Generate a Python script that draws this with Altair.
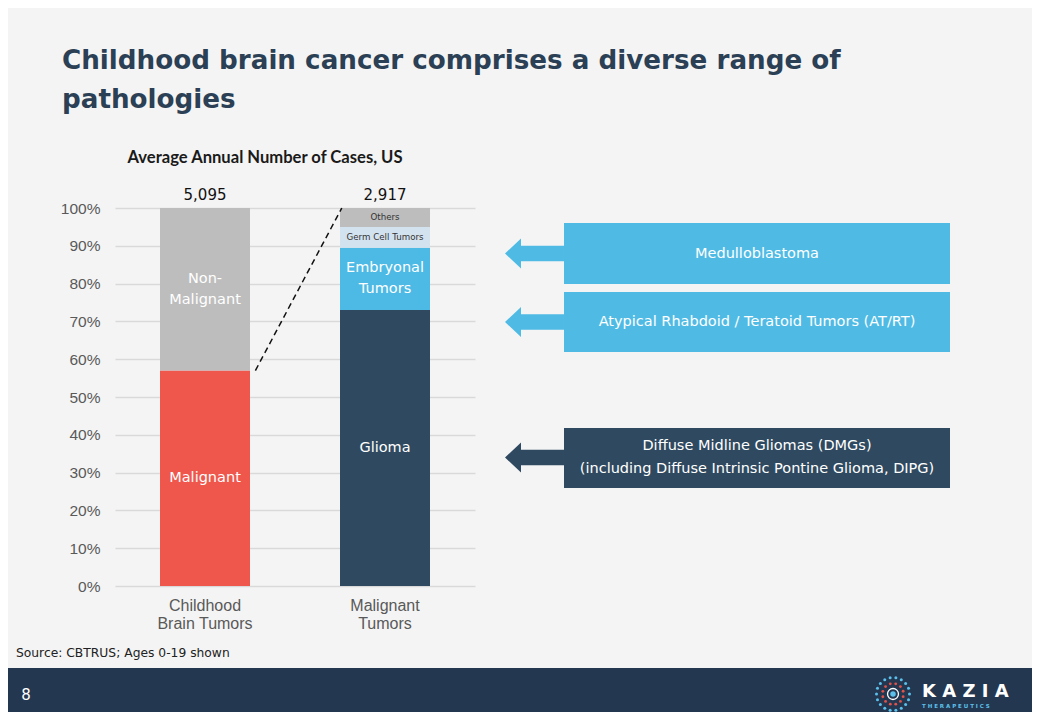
import math
import altair as alt
import pandas as pd

# ---------------- data ----------------
categories = ["Childhood Brain Tumors", "Malignant Tumors"]
category_labels = ["Childhood\nBrain Tumors", "Malignant\nTumors"]
totals = [5095, 2917]

seg_category = ["Childhood Brain Tumors", "Childhood Brain Tumors",
                "Malignant Tumors", "Malignant Tumors", "Malignant Tumors", "Malignant Tumors"]
seg_names = ["Malignant", "Non-Malignant", "Glioma", "Embryonal Tumors", "Germ Cell Tumors", "Others"]
seg_labels = ["Malignant", "Non-\nMalignant", "Glioma", "Embryonal\nTumors", "Germ Cell Tumors", "Others"]
seg_values = [57, 43, 73, 16.5, 5.5, 5]

seg_colors = ["#EF564C", "#BDBDBD", "#2F4A60", "#4DB9E5", "#D3E2EF", "#BDBDBD"]
seg_text_colors = ["white", "white", "white", "white", "#333333", "#333333"]
seg_text_sizes = [14.5, 14.5, 14.5, 14.5, 8.7, 8.7]

# ---------------- tables ----------------
rows = []
cum = {c: 0.0 for c in categories}
for c, n, lab, v, tc, ts in zip(seg_category, seg_names, seg_labels, seg_values,
                                seg_text_colors, seg_text_sizes):
    i = categories.index(c)
    y0 = cum[c]
    y1 = y0 + v
    cum[c] = y1
    rows.append(dict(category=c, segment=n, label=lab, y0=y0, y1=y1, ymid=(y0 + y1) / 2,
                     x0=i + 0.25, x1=i + 0.75, xc=i + 0.5, tcolor=tc, tsize=ts,
                     multi="\n" in lab))
seg_df = pd.DataFrame(rows)

tot_df = pd.DataFrame(dict(category=categories,
                           xc=[i + 0.5 for i in range(len(categories))],
                           top=[cum[c] for c in categories],
                           total=totals,
                           label=category_labels))

# connector: from top of "Malignant" (bar 1 right side) to top of bar 2 (left side)
conn_df = pd.DataFrame(dict(x=[0.78], y=[seg_values[0]], x2=[1.26], y2=[100]))

xscale = alt.Scale(domain=[0, 2], nice=False, zero=False)
yscale = alt.Scale(domain=[0, 100], nice=False)
yaxis = alt.Axis(values=list(range(0, 101, 10)), tickCount=11, labelOverlap=False,
                 labelExpr="datum.value + '%'",
                 grid=True, gridColor="#D9D9D9", gridWidth=1.5, domain=False,
                 ticks=False, labelFont="Liberation Sans", labelFontSize=15.5,
                 labelColor="#595959", labelPadding=15, title=None)

BG = "#F4F4F4"
NAVY = "#2F4A60"
SKY = "#4FBBE5"

bars = alt.Chart(seg_df).mark_rect().encode(
    x=alt.X("x0:Q", scale=xscale, axis=None),
    x2="x1:Q",
    y=alt.Y("y0:Q", scale=yscale, axis=yaxis),
    y2="y1:Q",
    color=alt.Color("segment:N", scale=alt.Scale(domain=seg_names, range=seg_colors), legend=None),
)


def seg_text_layer(multi, dy):
    return alt.Chart(seg_df).transform_filter(
        f"datum.multi == {'true' if multi else 'false'}"
    ).mark_text(font="DejaVu Sans", lineBreak="\n", lineHeight=21, dy=dy,
                baseline="middle", align="center").encode(
        x=alt.X("xc:Q", scale=xscale, axis=None),
        y=alt.Y("ymid:Q", scale=yscale, axis=yaxis),
        text="label:N",
        color=alt.Color("tcolor:N", scale=None),
        size=alt.Size("tsize:Q", scale=None),
    )


seg_text1 = seg_text_layer(False, 0)
seg_text2 = seg_text_layer(True, -10.5)

tot_text = alt.Chart(tot_df).mark_text(font="DejaVu Sans", fontSize=15, dy=-5, color="#111111",
                                       baseline="bottom").encode(
    x=alt.X("xc:Q", scale=xscale, axis=None),
    y=alt.Y("top:Q", scale=yscale, axis=yaxis),
    text=alt.Text("total:Q", format=","),
)

cat_text = alt.Chart(tot_df).mark_text(font="Liberation Sans", fontSize=16, lineBreak="\n",
                                       lineHeight=18, color="#595959", baseline="top").encode(
    x=alt.X("xc:Q", scale=xscale, axis=None),
    y=alt.value(390),
    text="label:N",
)

connector = alt.Chart(conn_df).mark_rule(color="#111111", strokeWidth=1.5,
                                         strokeDash=[6, 4]).encode(
    x=alt.X("x:Q", scale=xscale, axis=None), x2="x2:Q",
    y=alt.Y("y:Q", scale=yscale, axis=yaxis), y2="y2:Q",
)

one = pd.DataFrame({"a": [0]})


def box(x1, x2, y1, y2, color):
    return alt.Chart(one).mark_rect(color=color).encode(
        x=alt.value(x1), x2=alt.value(x2), y=alt.value(y1), y2=alt.value(y2))


def label(txt, x, y, size, color, font="DejaVu Sans", weight="normal", align="center",
          baseline="middle", lh=None):
    kw = dict(text=txt, fontSize=size, color=color, font=font, fontWeight=weight,
              align=align, baseline=baseline)
    if lh is not None:
        kw["lineHeight"] = lh
    return alt.Chart(one).mark_text(**kw).encode(x=alt.value(x), y=alt.value(y))


ARROW = ("M -0.983 0 L -0.45 -0.5 L -0.45 -0.26 L 0.983 -0.26 L 0.983 0.26 "
         "L -0.45 0.26 L -0.45 0.5 Z")


def arrow(x, y, color):
    return alt.Chart(one).mark_point(shape=ARROW, size=3600, filled=True, color=color,
                                     opacity=1, strokeWidth=0).encode(
        x=alt.value(x), y=alt.value(y))


# annotation boxes (plot-relative pixels)
deco = [
    box(449, 835, 15, 76, SKY),
    box(449, 835, 84, 144, SKY),
    box(449, 835, 220, 280, NAVY),
    arrow(419.5, 45.5, SKY),
    arrow(419.5, 114, SKY),
    arrow(419.5, 249.5, NAVY),
    label("Medulloblastoma", 642, 46, 14.5, "white"),
    label("Atypical Rhabdoid / Teratoid Tumors (AT/RT)", 642, 114, 14.5, "white"),
    label(["Diffuse Midline Gliomas (DMGs)", "(including Diffuse Intrinsic Pontine Glioma, DIPG)"],
          642, 238, 14.5, "white", lh=23),
]

# titles
titles = [
    label(["Childhood brain cancer comprises a diverse range of", "pathologies"], -53, -139, 26.2,
          "#2B3F55", font="DejaVu Sans", weight="bold", align="left", baseline="alphabetic", lh=39),
    label("Average Annual Number of Cases, US", 150, -45, 16.6, "#1A1A1A", font="Lato",
          weight="bold", baseline="alphabetic"),
    label("Source: CBTRUS; Ages 0-19 shown", -99, 445, 12.3, "#222222", align="left"),
]

# footer
logo_rows = []
for k in range(18):
    a = 2 * math.pi * k / 18
    logo_rows.append(dict(px=778 + 16.5 * math.cos(a), py=486 + 16.5 * math.sin(a), c="#5BC0EB", s=9))
for k in range(12):
    a = 2 * math.pi * k / 12 + 0.26
    logo_rows.append(dict(px=778 + 10.5 * math.cos(a), py=486 + 10.5 * math.sin(a), c="#E0524A", s=8))
logo_rows.append(dict(px=778, py=486, c="#5BC0EB", s=30))
logo_df = pd.DataFrame(logo_rows)

logo = alt.Chart(logo_df).mark_circle(opacity=1).encode(
    x=alt.X("px:Q", scale=None), y=alt.Y("py:Q", scale=None),
    color=alt.Color("c:N", scale=None), size=alt.Size("s:Q", scale=None))
logo_ring = alt.Chart(one).mark_point(size=120, color="white", strokeWidth=1.3, opacity=1,
                                      filled=False).encode(x=alt.value(778), y=alt.value(486))

footer = [
    box(-107, 917, 460, 504, "#243750"),
    label("8", -89, 487, 15, "white"),
    logo, logo_ring,
    label("K A Z I A", 807, 484, 18, "white", font="DejaVu Sans", weight="bold", align="left"),
    label("T H E R A P E U T I C S", 807, 498, 5.5, "#5BC0EB", font="DejaVu Sans", weight="bold",
          align="left"),
]

chart = alt.layer(
    bars, seg_text1, seg_text2, tot_text, cat_text, connector, *deco, *titles, *footer
).properties(
    width=360, height=378,
    autosize=alt.AutoSizeParams(type="none"),
    padding={"left": 107, "top": 200, "right": 557, "bottom": 126},
    background=BG,
).configure_view(stroke=None)

chart.save("out.html", embed_options={"renderer": "svg", "actions": False})
